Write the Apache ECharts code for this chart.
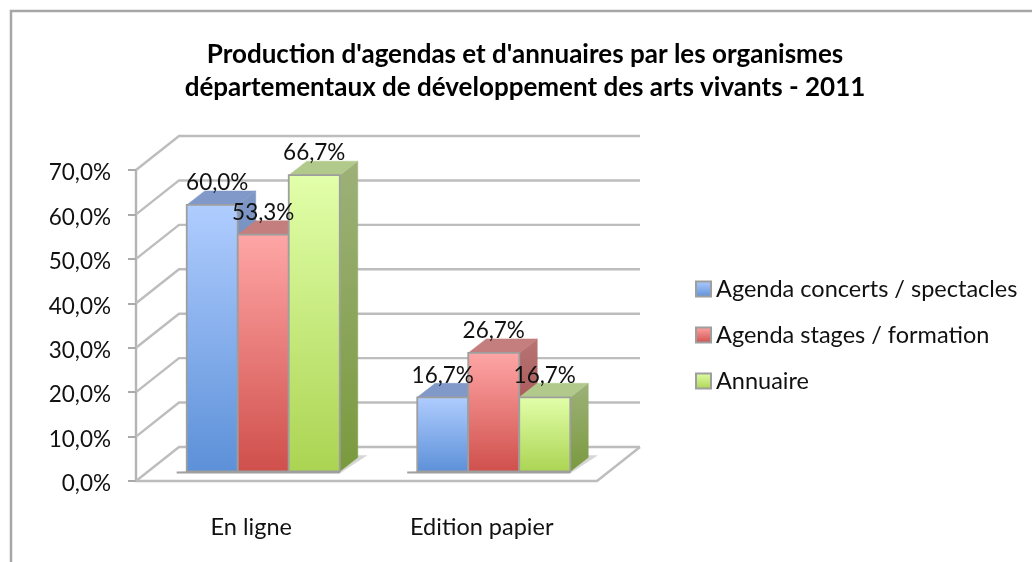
<!DOCTYPE html>
<html>
<head>
<meta charset="utf-8">
<title>Production d'agendas et d'annuaires</title>
<script src="https://cdn.jsdelivr.net/npm/echarts@6/dist/echarts.min.js"></script>
<style>
html, body { margin: 0; padding: 0; background: #fff; }
#chart { width: 1032px; height: 562px; filter: blur(0.45px); }
</style>
</head>
<body>
<div id="chart"></div>
<script>
var categories = ['En ligne', 'Edition papier'];
var seriesNames = ['Agenda concerts / spectacles', 'Agenda stages / formation', 'Annuaire'];
var agendaConcerts = [60.0, 16.7];
var agendaStages = [53.3, 26.7];
var annuaire = [66.7, 16.7];
var yTicks = [0, 10, 20, 30, 40, 50, 60, 70];
var yTickLabels = ['0,0%', '10,0%', '20,0%', '30,0%', '40,0%', '50,0%', '60,0%', '70,0%'];

var FONT = 'Lato';
var LINE = '#bdbdbd';
var EDGE = '#9e9e9e';
// fake 3d : back wall offset, bar plane offset, bar depth
var WALL = [43, -34];
var PLANE = [12, -9.5];
var DEPTH = [18, -14];
var BAR_RATIO = 0.2213;

var palette = [
  { front: ['#b0cdff', '#5c90d8'], top: '#8199c9', side: ['#7f98c6', '#4f74ad'] },
  { front: ['#ffa6a6', '#cf4f4b'], top: '#c47e7e', side: ['#b87474', '#9c3f3c'] },
  { front: ['#e2ffaa', '#abd452'], top: '#b1ca8b', side: ['#9db179', '#7a9a3e'] }
];

function grad(c) {
  return new echarts.graphic.LinearGradient(0, 0, 0, 1, [
    { offset: 0, color: c[0] },
    { offset: 1, color: c[1] }
  ]);
}

function poly(points, fill, stroke) {
  return {
    type: 'polygon',
    shape: { points: points },
    style: { fill: fill, stroke: stroke || fill, lineWidth: stroke ? 1.8 : 0.5 }
  };
}

function barLeft(api, cat, s) {
  var cx = api.coord([cat, 0])[0];
  var w = api.size([1, 0])[0] * BAR_RATIO;
  return cx + (s - 1.5) * w + PLANE[0];
}

function renderWall(params, api) {
  var y = api.coord([0, api.value(1)])[1];
  var box = params.coordSys;
  var x0 = box.x;
  var x1 = box.x + box.width;
  return {
    type: 'polyline',
    shape: { points: [[x0, y], [x0 + WALL[0], y + WALL[1]], [x1 + WALL[0], y + WALL[1]]] },
    style: { fill: 'none', stroke: LINE, lineWidth: 2.4 }
  };
}

function renderFloorEdge(params, api) {
  var box = params.coordSys;
  var y = box.y + box.height;
  var x1 = box.x + box.width;
  return {
    type: 'line',
    shape: { x1: x1, y1: y, x2: x1 + WALL[0], y2: y + WALL[1] },
    style: { stroke: LINE, lineWidth: 2.4 }
  };
}

// light shadow lying on the floor under each group of bars
function renderShadow(params, api) {
  var cat = api.value(0);
  var w = api.size([1, 0])[0] * BAR_RATIO;
  var left = barLeft(api, cat, 0);
  var right = left + 3 * w;
  var y = api.coord([cat, 0])[1] + PLANE[1];
  return {
    type: 'group',
    children: [
      poly([[left - 10, y + 1], [right + 1, y + 1], [right + 27, y - 16], [right + 18, y - 16]], '#d6d6d6'),
      { type: 'line', shape: { x1: left - 10, y1: y + 1, x2: right, y2: y + 1 }, style: { stroke: '#a0a0a0', lineWidth: 2 } }
    ]
  };
}

function makeBarRender(s) {
  return function (params, api) {
    var cat = api.value(0);
    var val = api.value(1);
    var w = api.size([1, 0])[0] * BAR_RATIO;
    var l = barLeft(api, cat, s);
    var r = l + w;
    var b = api.coord([cat, 0])[1] + PLANE[1];
    var t = api.coord([cat, val])[1] + PLANE[1];
    var dx = DEPTH[0];
    var dy = DEPTH[1];
    var c = palette[s];
    return {
      type: 'group',
      children: [
        poly([[r, t], [r + dx, t + dy], [r + dx, b + dy], [r, b]], grad(c.side)),
        poly([[l, t], [l + dx, t + dy], [r + dx, t + dy], [r, t]], c.top),
        poly([[l, t], [r, t], [r, b], [l, b]], grad(c.front), EDGE)
      ]
    };
  };
}

function renderValueLabel(params, api) {
  var s = api.value(2);
  var cat = api.value(0);
  var w = api.size([1, 0])[0] * BAR_RATIO;
  var pos = api.coord([cat, api.value(1)]);
  var val = api.value(1).toFixed(1).replace('.', ',') + '%';
  // the first label sits a little right of its bar in the original
  var shift = (s === 0 && cat === 0) ? 5 : 0;
  return {
    type: 'text',
    style: {
      x: barLeft(api, cat, s) + w / 2 + shift,
      y: pos[1] + PLANE[1] - 22,
      text: val,
      fill: '#111',
      font: '22.5px ' + FONT,
      align: 'center',
      verticalAlign: 'middle'
    }
  };
}

var barValues = [agendaConcerts, agendaStages, annuaire];
var labelData = [];
for (var s = 0; s < barValues.length; s++) {
  for (var c = 0; c < categories.length; c++) {
    labelData.push([c, barValues[s][c], s]);
  }
}

var series = [
  {
    name: 'murs',
    type: 'custom',
    z: 1,
    silent: true,
    renderItem: renderWall,
    data: yTicks.map(function (v) { return [0, v]; })
  },
  {
    name: 'sol',
    type: 'custom',
    z: 1,
    silent: true,
    renderItem: renderFloorEdge,
    data: [[0, 0]]
  },
  {
    name: 'ombres',
    type: 'custom',
    z: 2,
    silent: true,
    renderItem: renderShadow,
    data: categories.map(function (n, i) { return [i, 0]; })
  }
];
for (var i = 0; i < barValues.length; i++) {
  series.push({
    name: seriesNames[i],
    type: 'custom',
    z: 3 + i,
    renderItem: makeBarRender(i),
    itemStyle: { color: grad(palette[i].front), borderColor: EDGE, borderWidth: 2 },
    data: barValues[i].map(function (v, n) { return [n, v]; })
  });
}
series.push({
  name: 'etiquettes',
  type: 'custom',
  z: 10,
  silent: true,
  renderItem: renderValueLabel,
  data: labelData
});

var myChart = echarts.init(document.getElementById('chart'));
myChart.setOption({
  animation: false,
  backgroundColor: '#fff',
  title: {
    text: "Production d'agendas et d'annuaires par les organismes\ndépartementaux de développement des arts vivants - 2011",
    left: 520,
    top: 33,
    textAlign: 'center',
    textStyle: { fontFamily: FONT, fontSize: 26, fontWeight: 'bold', color: '#000', lineHeight: 33 }
  },
  legend: {
    data: seriesNames,
    orient: 'vertical',
    left: 695,
    top: 277,
    padding: 0,
    icon: 'rect',
    itemWidth: 15,
    itemHeight: 15,
    itemGap: 22,
    textStyle: { fontFamily: FONT, fontSize: 23.5, color: '#111', padding: [3, 0, 0, 0] }
  },
  grid: { left: 136, right: 435, top: 170, bottom: 81 },
  xAxis: {
    type: 'category',
    data: categories,
    axisLine: { lineStyle: { color: LINE, width: 2.4 } },
    axisTick: { length: 8, lineStyle: { color: '#aaa', width: 2 } },
    axisLabel: { fontFamily: FONT, fontSize: 23.5, color: '#111', margin: 34 }
  },
  yAxis: {
    type: 'value',
    min: 0,
    max: 70,
    interval: 10,
    axisLine: { show: true, lineStyle: { color: '#b4b4b4', width: 2.4 } },
    axisTick: { show: true, length: 8, lineStyle: { color: '#aaa', width: 2 } },
    splitLine: { show: false },
    axisLabel: {
      fontFamily: FONT,
      fontSize: 22.5,
      color: '#111',
      margin: 25,
      // small line box hung from the tick, sets the labels a bit below it
      verticalAlign: 'top',
      lineHeight: 6,
      formatter: function (v, i) { return yTickLabels[i]; }
    }
  },
  graphic: [{
    type: 'polyline',
    silent: true,
    shape: { points: [[11, 562], [11, 11], [1032, 11]] },
    style: { fill: 'none', stroke: '#a6a6a6', lineWidth: 2.5 }
  }],
  series: series
});
</script>
</body>
</html>
